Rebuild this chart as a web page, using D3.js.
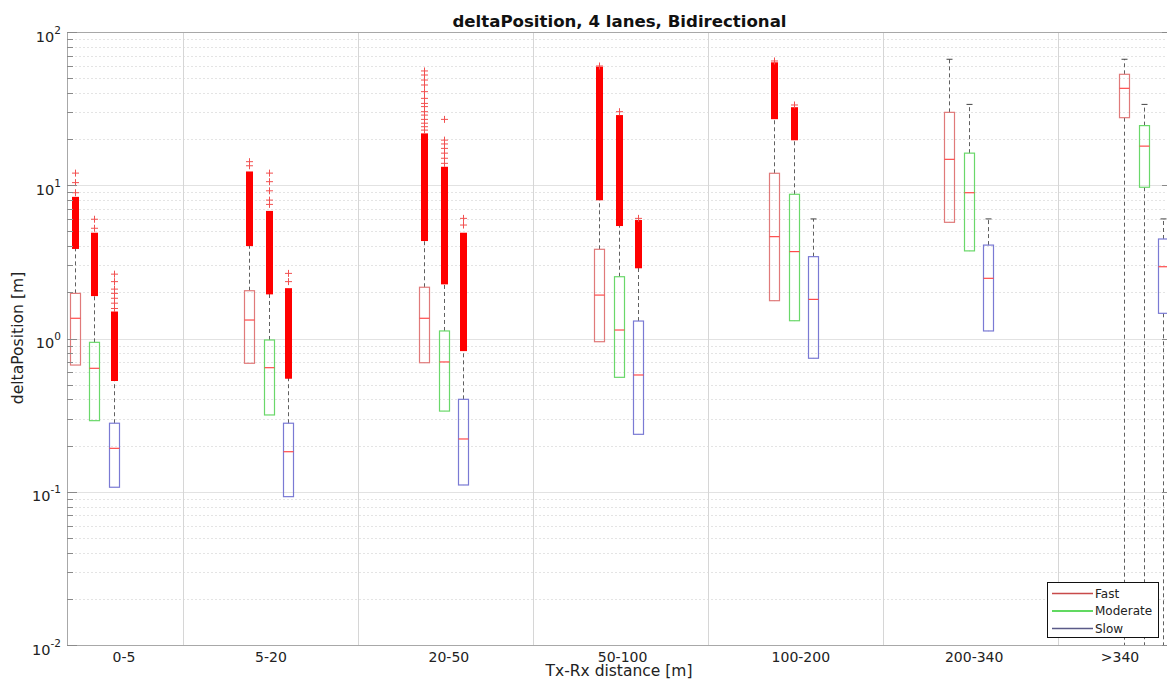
<!DOCTYPE html>
<html>
<head>
<meta charset="utf-8">
<script src="https://cdn.jsdelivr.net/npm/d3@7"></script>
<style>
  html, body { margin: 0; padding: 0; background: #fff; }
  svg { display: block; font-family: "DejaVu Sans", sans-serif; }
</style>
</head>
<body>
<svg id="chart" width="1167" height="679"></svg>
<script>
// ---- data -------------------------------------------------------------
const categories = ["0-5", "5-20", "20-50", "50-100", "100-200", "200-340", ">340"];
const seriesNames = ["Fast", "Moderate", "Slow"];

// per distance bin: [lower whisker, q1, median, q3, upper whisker]
const fastBox = [
  [0.671, 0.671, 1.355, 1.97, 3.9],
  [0.689, 0.689, 1.32, 2.05, 4.07],
  [0.695, 0.695, 1.355, 2.16, 4.39],
  [0.953, 0.953, 1.92, 3.82, 8.1],
  [1.765, 1.765, 4.62, 11.97, 27.4],
  [5.73, 5.73, 14.76, 29.9, 66.4],
  [0.001, 27.6, 42.9, 52.97, 66.4]
];
const moderateBox = [
  [0.291, 0.291, 0.639, 0.944, 1.92],
  [0.317, 0.317, 0.645, 0.978, 1.97],
  [0.336, 0.336, 0.703, 1.12, 2.29],
  [0.558, 0.558, 1.136, 2.53, 5.5],
  [1.306, 1.306, 3.69, 8.73, 19.95],
  [3.73, 3.73, 8.94, 16.2, 33.7],
  [0.001, 9.7, 18.0, 24.5, 33.7]
];
const slowBox = [
  [0.107, 0.107, 0.192, 0.28, 0.536],
  [0.0929, 0.0929, 0.1825, 0.28, 0.555],
  [0.1107, 0.1107, 0.221, 0.401, 0.84],
  [0.237, 0.237, 0.578, 1.30, 2.915],
  [0.743, 0.743, 1.80, 3.42, 6.03],
  [1.12, 1.12, 2.47, 4.07, 6.03],
  [0.001, 1.46, 2.94, 4.46, 6.03]
];

// ranges packed so densely with outliers that they merge: [from, to]
const fastDense = [[3.9, 8.4], [4.07, 12.3], [4.39, 21.8], [8.1, 59.4], [27.4, 63.4], null, null];
const moderateDense = [[1.92, 4.9], [1.97, 6.8], [2.29, 13.2], [5.5, 28.7], [19.95, 32.3], null, null];
const slowDense = [[0.536, 1.50], [0.555, 2.13], [0.84, 4.9], [2.915, 5.93], null, null, null];

// isolated outliers
const fastOutliers = [
  [12.0, 10.4, 8.94],
  [14.25, 13.4],
  [55.7, 52.4, 48.6, 45.1, 40.8, 36.9, 34.2, 32.6, 30.2, 28.7, 26.9, 25.4, 24.1, 22.9],
  [60.0],
  [64.7],
  [], []
];
const moderateOutliers = [
  [6.0, 5.24],
  [12.0, 10.55, 9.2, 8.0, 7.5],
  [26.9, 19.7, 18.6, 17.4, 16.2, 15.0, 13.9],
  [30.2],
  [33.4],
  [], []
];
const slowOutliers = [
  [2.63, 2.35, 2.10, 1.97, 1.83, 1.70, 1.57],
  [2.66, 2.35],
  [6.08, 5.5],
  [6.08],
  [], [], []
];

const yTickExponents = [-2, -1, 0, 1, 2];

// ---- layout -----------------------------------------------------------
const plot = { left: 67, right: 1168, top: 32, bottom: 645 };
const seriesOffset = [0, 0.1115, 0.223];       // in bin units
const separatorOffset = 0.62;
const labelPos = [1.283, 2.123, 3.140, 4.133, 5.152, 6.143, 6.977];
const boxHalf = 5;
const bandHalf = 3.5;

const boxStroke = ["#e07a7a", "#6ad86a", "#7a7ad4"];
const legendStroke = ["#c84a4a", "#2ccc2c", "#5a5a88"];
const medianColor = "#ff4a4a";

const svg = d3.select("#chart");

const x = d3.scaleLinear().domain([0.957, 7.251]).range([plot.left, plot.right]);
const y = d3.scaleLog().domain([0.01, 100]).range([plot.bottom, plot.top]);

svg.append("defs").append("clipPath").attr("id", "plotClip")
  .append("rect")
  .attr("x", plot.left).attr("y", plot.top)
  .attr("width", plot.right - plot.left).attr("height", plot.bottom - plot.top);

// ---- grid -------------------------------------------------------------
const grid = svg.append("g");
const minorVals = [];
for (let e = -2; e < 2; e++) for (let k = 2; k <= 9; k++) minorVals.push(k * Math.pow(10, e));

grid.selectAll("line.minor").data(minorVals).join("line")
  .attr("class", "minor")
  .attr("x1", plot.left).attr("x2", plot.right)
  .attr("y1", d => Math.round(y(d)) + 0.5).attr("y2", d => Math.round(y(d)) + 0.5)
  .attr("stroke", "#e4e4e4").attr("stroke-width", 1).attr("stroke-dasharray", "2,2");

grid.selectAll("line.major").data(yTickExponents.map(e => Math.pow(10, e))).join("line")
  .attr("class", "major")
  .attr("x1", plot.left).attr("x2", plot.right)
  .attr("y1", d => Math.round(y(d)) + 0.5).attr("y2", d => Math.round(y(d)) + 0.5)
  .attr("stroke", "#e2e2e2").attr("stroke-width", 1.2);

const seps = d3.range(1, categories.length).map(g => g + separatorOffset);
grid.selectAll("line.sep").data(seps).join("line")
  .attr("class", "sep")
  .attr("x1", d => Math.round(x(d)) + 0.5).attr("x2", d => Math.round(x(d)) + 0.5)
  .attr("y1", plot.top).attr("y2", plot.bottom)
  .attr("stroke", "#d6d6d6").attr("stroke-width", 1);

// ---- boxes ------------------------------------------------------------
const boxes = [fastBox, moderateBox, slowBox];
const dense = [fastDense, moderateDense, slowDense];
const outliers = [fastOutliers, moderateOutliers, slowOutliers];

const marks = svg.append("g").attr("clip-path", "url(#plotClip)");

boxes.forEach((series, s) => {
  series.forEach((st, g) => {
    const cx = Math.round(x(g + 1 + seriesOffset[s])) + 0.5;
    const [lo, q1, med, q3, hi] = st;
    const grp = marks.append("g");
    // whiskers
    grp.append("line")
      .attr("x1", cx).attr("x2", cx).attr("y1", y(q3)).attr("y2", y(hi))
      .attr("stroke", "#606060").attr("stroke-dasharray", "4,3");
    grp.append("line")
      .attr("x1", cx).attr("x2", cx).attr("y1", y(q1)).attr("y2", y(lo))
      .attr("stroke", "#606060").attr("stroke-dasharray", "4,3");
    grp.append("line")
      .attr("x1", cx - 3).attr("x2", cx + 3).attr("y1", y(hi)).attr("y2", y(hi))
      .attr("stroke", "#444");
    // box and median
    grp.append("rect")
      .attr("x", cx - boxHalf).attr("width", boxHalf * 2)
      .attr("y", y(q3)).attr("height", y(q1) - y(q3))
      .attr("fill", "none").attr("stroke", boxStroke[s]).attr("stroke-width", 1.2);
    grp.append("line")
      .attr("x1", cx - boxHalf).attr("x2", cx + boxHalf)
      .attr("y1", y(med)).attr("y2", y(med))
      .attr("stroke", medianColor).attr("stroke-width", 1.2);
    // outliers
    const band = dense[s][g];
    if (band) {
      grp.append("rect")
        .attr("x", cx - bandHalf).attr("width", bandHalf * 2)
        .attr("y", y(band[1])).attr("height", y(band[0]) - y(band[1]) + 1)
        .attr("fill", "#ff0000");
    }
    grp.selectAll("path.out").data(outliers[s][g]).join("path")
      .attr("class", "out")
      .attr("transform", d => `translate(${cx},${y(d)})`)
      .attr("d", "M-3.5,0H3.5M0,-3.5V3.5")
      .attr("stroke", "#f25050").attr("stroke-width", 1).attr("fill", "none");
  });
});

// ---- axes -------------------------------------------------------------
const axisColor = "#a8a8a8";
svg.append("line").attr("x1", plot.left + 0.5).attr("x2", plot.left + 0.5)
  .attr("y1", plot.top).attr("y2", plot.bottom).attr("stroke", axisColor);
svg.append("line").attr("x1", plot.left).attr("x2", plot.right)
  .attr("y1", plot.top + 0.5).attr("y2", plot.top + 0.5).attr("stroke", axisColor);
svg.append("line").attr("x1", plot.left).attr("x2", plot.right)
  .attr("y1", plot.bottom + 0.5).attr("y2", plot.bottom + 0.5).attr("stroke", axisColor);

// y ticks (inward)
svg.selectAll("line.ytmin").data(minorVals).join("line")
  .attr("x1", plot.left).attr("x2", plot.left + 6)
  .attr("y1", d => Math.round(y(d)) + 0.5).attr("y2", d => Math.round(y(d)) + 0.5)
  .attr("stroke", "#8a8a8a");
svg.selectAll("line.ytmaj").data(yTickExponents).join("line")
  .attr("x1", plot.left).attr("x2", plot.left + 10)
  .attr("y1", d => Math.round(y(Math.pow(10, d))) + 0.5).attr("y2", d => Math.round(y(Math.pow(10, d))) + 0.5)
  .attr("stroke", "#8a8a8a");
svg.selectAll("line.ytmajR").data(yTickExponents).join("line")
  .attr("x1", plot.right - 6).attr("x2", plot.right)
  .attr("y1", d => Math.round(y(Math.pow(10, d))) + 0.5).attr("y2", d => Math.round(y(Math.pow(10, d))) + 0.5)
  .attr("stroke", "#8a8a8a");

// y tick labels 10^n
const yLab = svg.selectAll("text.ylab").data(yTickExponents).join("text")
  .attr("x", 61).attr("y", d => y(Math.pow(10, d)) + 9.5)
  .attr("text-anchor", "end").attr("font-size", 14.5).attr("fill", "#222");
yLab.append("tspan").text("10");
yLab.append("tspan").attr("dy", -8).attr("font-size", 10.5).text(d => d);

// x tick labels
svg.selectAll("text.xlab").data(categories).join("text")
  .attr("x", (d, i) => x(labelPos[i])).attr("y", 662)
  .attr("text-anchor", "middle").attr("font-size", 14).attr("fill", "#222")
  .text(d => d);

// titles
svg.append("text").attr("x", 619.5).attr("y", 26.5).attr("text-anchor", "middle")
  .attr("font-size", 16.6).attr("font-weight", "bold").attr("fill", "#111")
  .text("deltaPosition, 4 lanes, Bidirectional");
svg.append("text").attr("x", 619).attr("y", 676).attr("text-anchor", "middle")
  .attr("font-size", 15.5).attr("fill", "#222").text("Tx-Rx distance [m]");
svg.append("text").attr("transform", "translate(17.5,338) rotate(-90)")
  .attr("text-anchor", "middle").attr("dominant-baseline", "central")
  .attr("font-size", 15.6).attr("fill", "#222").text("deltaPosition [m]");

// ---- legend -----------------------------------------------------------
const leg = svg.append("g");
leg.append("rect").attr("x", 1047.5).attr("y", 582.5).attr("width", 111).attr("height", 55)
  .attr("fill", "#fff").attr("stroke", "#111").attr("stroke-width", 1);
seriesNames.forEach((name, i) => {
  const ly = 593.5 + i * 17.5;
  leg.append("line").attr("x1", 1052).attr("x2", 1093).attr("y1", ly).attr("y2", ly)
    .attr("stroke", legendStroke[i]).attr("stroke-width", 1.3);
  leg.append("text").attr("x", 1095).attr("y", ly).attr("dominant-baseline", "central")
    .attr("font-size", 12).attr("fill", "#222").text(name);
});
</script>
</body>
</html>
